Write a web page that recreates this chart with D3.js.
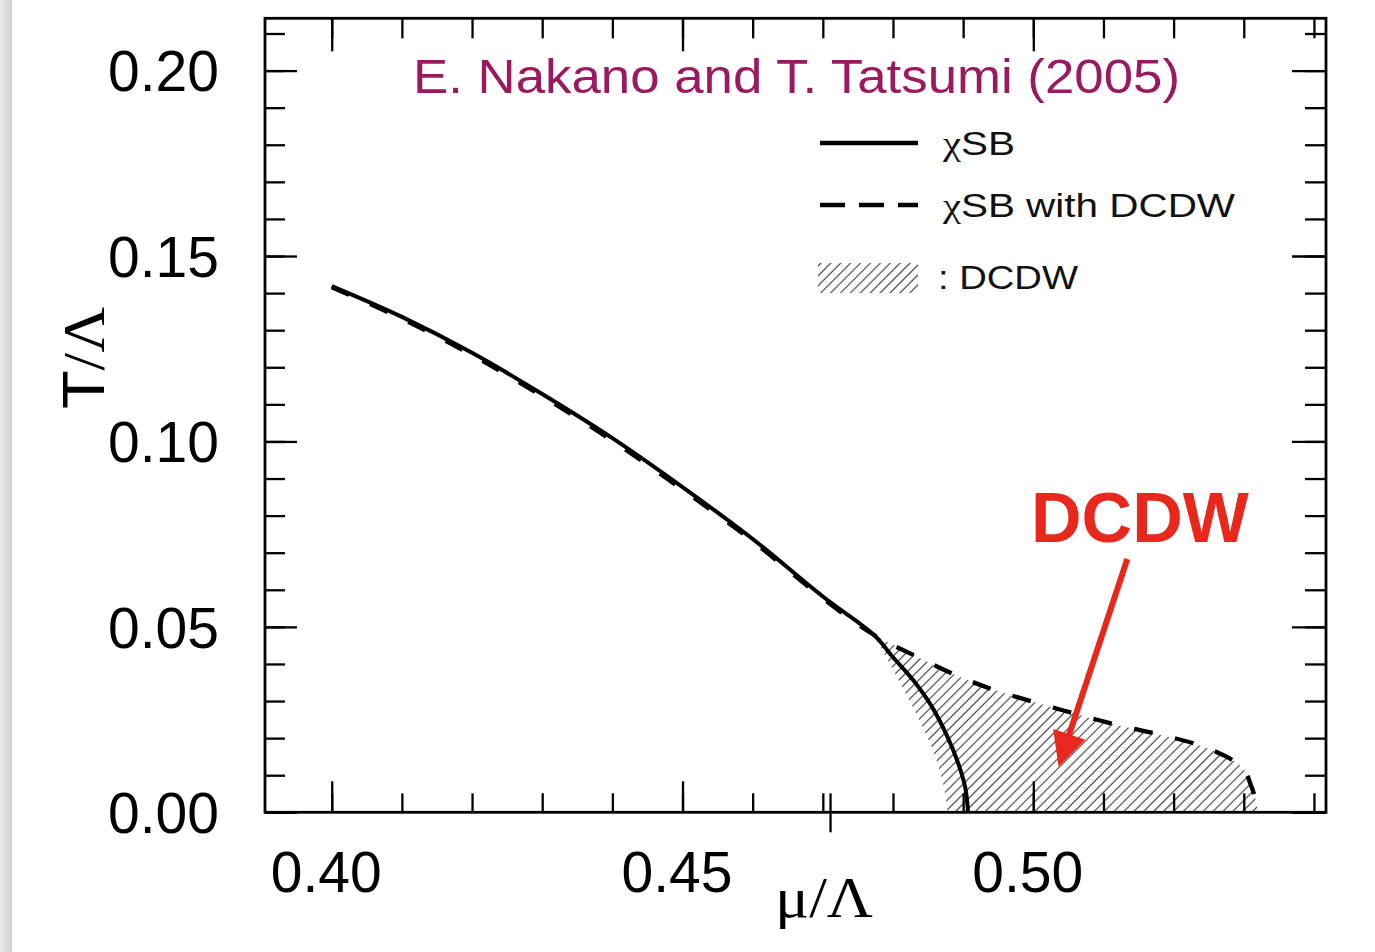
<!DOCTYPE html>
<html>
<head>
<meta charset="utf-8">
<script src="https://cdn.jsdelivr.net/npm/d3@7"></script>
<style>
  html, body { margin: 0; padding: 0; background: #fff; }
  svg { display: block; }
</style>
</head>
<body>
<svg id="chart" width="1375" height="952"></svg>
<script>
// ---- tick values ----
const xMajorTicks = [0.40, 0.45, 0.50];
const xMinorTicks = [0.40, 0.41, 0.42, 0.43, 0.44, 0.45, 0.46, 0.47, 0.48, 0.49, 0.50, 0.51, 0.52, 0.53, 0.54];
const yMajorTicks = [0.00, 0.05, 0.10, 0.15, 0.20];
const yMinorTicks = [0.00, 0.01, 0.02, 0.03, 0.04, 0.05, 0.06, 0.07, 0.08, 0.09, 0.10,
                     0.11, 0.12, 0.13, 0.14, 0.15, 0.16, 0.17, 0.18, 0.19, 0.20, 0.21];
const xTickLabels = ["0.40", "0.45", "0.50"];
const yTickLabels = ["0.00", "0.05", "0.10", "0.15", "0.20"];
const strayTick = [0.4711];

// ---- chiral symmetry breaking boundary (solid) ----
const chiMu = [0.400, 0.410, 0.420, 0.430, 0.440, 0.450, 0.460, 0.470, 0.4773, 0.4800, 0.4829, 0.4856, 0.4878, 0.4893, 0.4903, 0.4907];
const chiT  = [0.1419, 0.1336, 0.1239, 0.1128, 0.1009, 0.0877, 0.0737, 0.0582, 0.0478, 0.0418, 0.0356, 0.0283, 0.0202, 0.0132, 0.0067, 0.0000];

// ---- chiral boundary with DCDW (dashed) ----
const dcdwMu = [0.400, 0.410, 0.420, 0.430, 0.440, 0.450, 0.460, 0.470, 0.4773, 0.4836, 0.4893, 0.4949, 0.5007, 0.5067, 0.5127, 0.5184, 0.5245, 0.5298, 0.5310, 0.5317, 0.5320];
const dcdwT  = [0.1416, 0.1331, 0.1233, 0.1122, 0.1002, 0.0870, 0.0731, 0.0577, 0.0478, 0.0418, 0.0367, 0.0327, 0.0294, 0.0262, 0.0232, 0.0208, 0.0175, 0.0121, 0.0074, 0.0033, 0.0000];

// ---- lower edge of the DCDW phase ----
const onsetMu = [0.4773, 0.4792, 0.4815, 0.4837, 0.4858, 0.4872, 0.4878];
const onsetT  = [0.0478, 0.0412, 0.0332, 0.0250, 0.0162, 0.0073, 0.0000];

// annotation anchor points (data space)
const noteLabel = { mu: 0.5152, T: 0.0729, text: "DCDW" };
const arrowFrom = { mu: 0.5134, T: 0.0683 };
const arrowTip  = { mu: 0.5036, T: 0.0123 };

const svg = d3.select("#chart");
const W = 1375, H = 952;
const pL = 265, pR = 1326, pT = 18.3, pB = 812.3;

const x = d3.scaleLinear().domain([0.39049, 0.54172]).range([pL, pR]);
const y = d3.scaleLinear().domain([0, 0.2141]).range([pB, pT]);

const defs = svg.append("defs");
const grad = defs.append("linearGradient").attr("id", "edgeShade")
  .attr("x1", "0%").attr("x2", "100%").attr("y1", "0%").attr("y2", "0%");
grad.append("stop").attr("offset", "0%").attr("stop-color", "#ebebeb");
grad.append("stop").attr("offset", "100%").attr("stop-color", "#cfcfcf");

const hatch = defs.append("pattern").attr("id", "hatch")
  .attr("patternUnits", "userSpaceOnUse").attr("width", 7).attr("height", 7)
  .attr("patternTransform", "rotate(45)");
hatch.append("line").attr("x1", 3.5).attr("y1", 0).attr("x2", 3.5).attr("y2", 7)
  .attr("stroke", "#444").attr("stroke-width", 1.2);

svg.append("rect").attr("width", W).attr("height", H).attr("fill", "#fff");
svg.append("rect").attr("x", 0).attr("y", 0).attr("width", 12).attr("height", H).attr("fill", "url(#edgeShade)");

// ---- DCDW hatched region ----
const pts = (mus, ts) => mus.map((m, i) => [m, ts[i]]);
const chiPts = pts(chiMu, chiT);
const dcdwPts = pts(dcdwMu, dcdwT);
const onsetPts = pts(onsetMu, onsetT);

const curve = d3.line().x(d => x(d[0])).y(d => y(d[1])).curve(d3.curveCatmullRom.alpha(0.5));
const upperEdge = dcdwPts.filter(d => d[0] >= 0.4773);
const lowerEdge = onsetPts.slice().reverse();
const regionPath = curve(upperEdge) + "L" + curve(lowerEdge).slice(1) + "Z";
svg.append("path").attr("d", regionPath).attr("fill", "url(#hatch)").attr("stroke", "none");

// ---- axes frame and ticks ----
function ticks(axis, tx, ty) {
  const g = svg.append("g").attr("transform", `translate(${tx},${ty})`).call(axis);
  g.select(".domain").remove();
  g.selectAll("text").remove();
  g.selectAll("line").attr("stroke", "#000").attr("stroke-width", 2.3);
}
ticks(d3.axisRight(y).tickValues(yMinorTicks).tickSize(20), pL, 0);
ticks(d3.axisRight(y).tickValues(yMajorTicks).tickSize(32), pL, 0);
ticks(d3.axisLeft(y).tickValues(yMinorTicks).tickSize(21), pR, 0);
ticks(d3.axisLeft(y).tickValues(yMajorTicks).tickSize(34), pR, 0);
ticks(d3.axisTop(x).tickValues(xMinorTicks).tickSize(19), 0, pB);
ticks(d3.axisTop(x).tickValues(xMajorTicks).tickSize(31), 0, pB);
ticks(d3.axisBottom(x).tickValues(xMinorTicks).tickSize(20), 0, pT);
ticks(d3.axisBottom(x).tickValues(xMajorTicks).tickSize(33), 0, pT);

// stray tick mark crossing the bottom axis
svg.selectAll(".stray").data(strayTick).join("line").attr("class", "stray")
  .attr("x1", d => x(d)).attr("x2", d => x(d))
  .attr("y1", pB - 19).attr("y2", pB + 20)
  .attr("stroke", "#000").attr("stroke-width", 2.3);

svg.append("rect").attr("x", pL).attr("y", pT).attr("width", pR - pL).attr("height", pB - pT)
  .attr("fill", "none").attr("stroke", "#000").attr("stroke-width", 2.8);

const sans = "'Liberation Sans', Arial, sans-serif";
const serif = "'Liberation Serif', 'Times New Roman', serif";

// tick labels
const yLab = svg.append("g").attr("transform", `translate(${pL},0)`)
  .call(d3.axisLeft(y).tickValues(yMajorTicks).tickSize(0).tickPadding(46)
        .tickFormat((d, i) => yTickLabels[i]));
yLab.select(".domain").remove();
yLab.selectAll("text").attr("font-family", sans)
  .attr("font-size", 57).attr("fill", "#000").attr("dy", "0.355em");

const xLab = svg.append("g").attr("transform", `translate(0,${pB})`)
  .call(d3.axisBottom(x).tickValues(xMajorTicks).tickSize(0).tickPadding(39)
        .tickFormat((d, i) => xTickLabels[i]));
xLab.select(".domain").remove();
xLab.selectAll("text").attr("font-family", sans)
  .attr("font-size", 57).attr("fill", "#000").attr("dx", -6);

// axis titles
const yTitle = svg.append("text").attr("transform", "translate(104,358) rotate(-90)")
  .attr("text-anchor", "middle").attr("font-size", 60).attr("fill", "#000")
  .attr("textLength", 102).attr("lengthAdjust", "spacingAndGlyphs");
yTitle.append("tspan").attr("font-family", sans).text("T");
yTitle.append("tspan").attr("font-family", serif).text("/Λ");

svg.append("text").attr("x", 775).attr("y", 917)
  .attr("font-family", serif)
  .attr("font-size", 58).attr("fill", "#000")
  .attr("textLength", 98).attr("lengthAdjust", "spacingAndGlyphs")
  .text("μ/Λ");

// ---- phase boundaries ----
svg.append("path").attr("d", curve(dcdwPts)).attr("fill", "none")
  .attr("stroke", "#000").attr("stroke-width", 4.3).attr("stroke-dasharray", "19,23");
svg.append("path").attr("d", curve(chiPts)).attr("fill", "none")
  .attr("stroke", "#000").attr("stroke-width", 4);

// ---- legend ----
svg.append("line").attr("x1", 820).attr("x2", 918).attr("y1", 143).attr("y2", 143)
  .attr("stroke", "#000").attr("stroke-width", 4.3);
svg.append("line").attr("x1", 820).attr("x2", 918).attr("y1", 205).attr("y2", 205)
  .attr("stroke", "#000").attr("stroke-width", 4.3).attr("stroke-dasharray", "25,14");
svg.append("rect").attr("x", 818).attr("y", 263).attr("width", 100).attr("height", 30)
  .attr("fill", "url(#hatch)");

function legendText(yb, width, parts) {
  const t = svg.append("text").attr("x", 943).attr("y", yb).attr("font-size", 33).attr("fill", "#111")
    .attr("textLength", width).attr("lengthAdjust", "spacingAndGlyphs");
  parts.forEach(p => t.append("tspan").attr("font-family", p[0]).text(p[1]));
}
legendText(155, 72, [[serif, "χ"], [sans, "SB"]]);
legendText(217, 292, [[serif, "χ"], [sans, "SB with DCDW"]]);
svg.append("text").attr("x", 938).attr("y", 289).attr("font-size", 33).attr("fill", "#111")
  .attr("font-family", sans).attr("textLength", 140).attr("lengthAdjust", "spacingAndGlyphs")
  .text(": DCDW");

// ---- title ----
svg.append("text").attr("x", 413).attr("y", 93)
  .attr("font-family", sans).attr("font-size", 48).attr("fill", "#9b195f")
  .attr("textLength", 767).attr("lengthAdjust", "spacingAndGlyphs")
  .text("E. Nakano and T. Tatsumi (2005)");

// ---- red annotation ----
const red = "#e8281c";
svg.append("text").attr("x", x(noteLabel.mu)).attr("y", y(noteLabel.T))
  .attr("text-anchor", "middle").attr("font-family", sans).attr("font-weight", "bold")
  .attr("font-size", 70).attr("fill", red).text(noteLabel.text);

const ax0 = x(arrowFrom.mu), ay0 = y(arrowFrom.T), ax1 = x(arrowTip.mu), ay1 = y(arrowTip.T);
const len = Math.hypot(ax1 - ax0, ay1 - ay0), ux = (ax1 - ax0) / len, uy = (ay1 - ay0) / len;
const headLen = 34, headHalf = 17;
const bx = ax1 - ux * headLen, by = ay1 - uy * headLen;
svg.append("line").attr("x1", ax0).attr("y1", ay0).attr("x2", bx + ux * 2).attr("y2", by + uy * 2)
  .attr("stroke", red).attr("stroke-width", 6);
svg.append("path")
  .attr("d", `M${ax1},${ay1}L${bx - uy * headHalf},${by + ux * headHalf}L${bx + uy * headHalf},${by - ux * headHalf}Z`)
  .attr("fill", red);
</script>
</body>
</html>
